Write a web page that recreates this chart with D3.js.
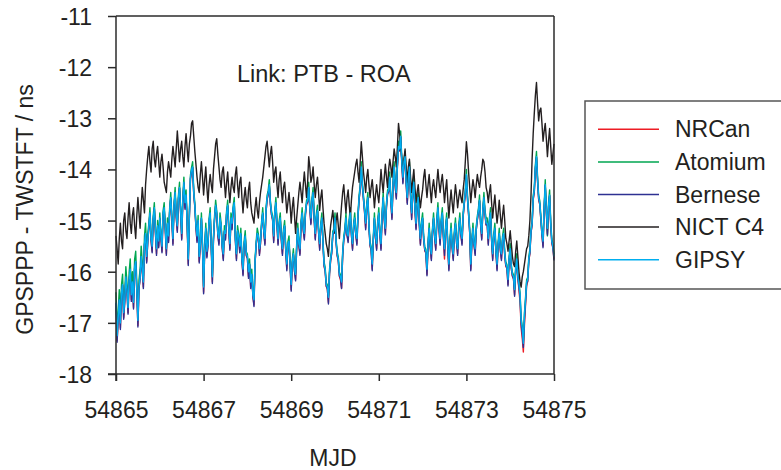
<!DOCTYPE html>
<html>
<head>
<meta charset="utf-8">
<script src="https://cdn.jsdelivr.net/npm/d3@7"></script>
<style>
  html, body { margin: 0; padding: 0; background: #fff; }
  svg { display: block; font-family: "Liberation Sans", Arial, sans-serif; }
</style>
</head>
<body>
<svg id="chart" width="781" height="470"></svg>
<script>
// Sampling of the series: MJD 54865 .. 54875, every 0.025 day (401 epochs)
const mjdStart = 54865;
const mjdStep = 0.025;

const seriesNames = ["NRCan", "Atomium", "Bernese", "NICT C4", "GIPSY"];
const seriesColors = ["#ed1c24", "#00a651", "#2e3192", "#231f20", "#00aeef"];

const xTicks = [54865, 54867, 54869, 54871, 54873, 54875];
const yTicks = [-18, -17, -16, -15, -14, -13, -12, -11];

// GPSPPP - TWSTFT (ns), one row = half a day
const nrcan = [
-16.62,-17.35,-16.94,-16.57,-17.10,-16.44,-16.27,-16.90,-16.59,-16.12,-16.39,-16.80,-16.19,-15.97,-16.55,-16.22,-16.70,-15.94,-15.82,-16.39,
-17.05,-16.34,-16.14,-15.72,-15.99,-16.30,-15.49,-15.27,-15.80,-15.44,-15.14,-14.87,-15.39,-15.60,-14.99,-14.77,-15.24,-15.65,-15.12,-15.50,
-14.97,-15.34,-15.60,-14.89,-14.77,-15.19,-15.65,-15.07,-15.40,-14.84,-14.57,-14.99,-15.45,-14.74,-14.47,-14.94,-15.20,-14.59,-14.37,-14.84,
-15.35,-14.64,-14.27,-14.75,-14.52,-15.09,-15.85,-14.94,-14.19,-14.04,-13.97,-14.49,-14.74,-15.14,-15.40,-15.02,-15.80,-15.49,-14.97,-15.54,
-16.40,-15.59,-15.17,-15.70,-15.49,-15.04,-14.87,-15.54,-16.20,-15.39,-14.99,-14.72,-14.89,-15.29,-15.45,-14.97,-15.14,-15.54,-15.75,-15.22,
-15.35,-14.89,-14.72,-15.19,-15.55,-14.97,-15.15,-14.79,-14.67,-15.39,-15.75,-15.22,-15.34,-15.60,-15.27,-15.79,-16.05,-15.49,-15.32,-15.69,
-15.74,-16.10,-15.87,-16.30,-16.07,-16.49,-16.65,-15.84,-15.49,-15.27,-15.34,-15.65,-15.44,-15.09,-14.87,-15.24,-15.45,-14.84,-14.59,-14.49,
-14.32,-14.69,-14.89,-14.99,-15.40,-14.89,-14.67,-15.09,-15.45,-15.09,-14.97,-15.39,-15.65,-15.24,-15.12,-15.59,-15.95,-15.49,-15.42,-15.89,
-16.35,-15.84,-15.67,-15.99,-16.15,-15.54,-15.17,-15.49,-15.65,-15.09,-14.87,-15.19,-15.35,-14.89,-14.69,-14.64,-14.37,-14.79,-15.05,-14.64,
-14.47,-14.99,-15.35,-14.94,-14.82,-15.24,-15.55,-15.14,-14.97,-15.44,-15.89,-15.99,-16.29,-16.34,-16.60,-16.04,-15.79,-15.64,-15.29,-15.24,
-14.97,-15.44,-15.69,-15.79,-16.09,-16.16,-16.32,-15.69,-15.39,-15.24,-14.97,-15.29,-15.40,-15.04,-14.87,-15.29,-15.55,-15.14,-14.97,-15.29,
-15.45,-14.94,-14.59,-14.39,-13.97,-14.34,-14.59,-14.84,-15.15,-14.74,-14.57,-15.14,-15.49,-15.59,-15.95,-15.39,-14.97,-15.34,-15.55,-15.09,
-14.87,-15.29,-15.55,-14.94,-14.57,-14.99,-15.25,-14.74,-14.49,-14.44,-14.17,-14.64,-14.95,-14.34,-13.97,-14.34,-14.55,-13.94,-13.57,-13.64,
-13.37,-13.89,-14.25,-13.89,-13.77,-14.29,-14.65,-14.19,-13.97,-14.54,-14.95,-14.49,-14.27,-14.79,-15.15,-14.74,-14.57,-15.09,-15.45,-15.09,
-14.97,-15.39,-15.59,-15.64,-16.05,-15.49,-15.17,-15.54,-15.75,-15.24,-14.97,-15.34,-15.55,-15.04,-14.77,-15.19,-15.45,-15.04,-14.87,-15.34,
-15.75,-15.19,-14.97,-15.54,-15.95,-15.44,-15.17,-15.54,-15.75,-15.29,-15.07,-15.44,-15.65,-15.19,-14.97,-15.29,-15.45,-14.94,-14.69,-14.49,
-14.12,-14.59,-14.89,-15.24,-15.95,-15.44,-15.17,-15.49,-15.65,-15.19,-14.99,-14.84,-14.62,-15.09,-15.35,-14.84,-14.57,-14.89,-15.09,-15.09,
-15.45,-15.04,-14.87,-15.39,-15.75,-15.34,-15.17,-15.64,-15.95,-15.49,-15.27,-15.59,-15.75,-15.39,-15.27,-15.69,-15.89,-15.94,-16.25,-15.79,
-15.57,-15.94,-16.09,-16.14,-16.45,-15.99,-15.77,-16.14,-16.35,-16.60,-17.10,-17.30,-17.57,-17.05,-16.65,-16.28,-16.19,-15.79,-15.64,-15.24,
-15.09,-14.59,-14.44,-13.99,-13.77,-14.24,-14.59,-14.69,-14.99,-15.29,-15.50,-14.79,-14.32,-14.84,-15.25,-14.74,-14.52,-15.09,-15.44,-15.54,
-15.75
];

const atomium = [
-16.40,-17.13,-16.76,-16.35,-16.88,-16.26,-16.05,-16.68,-16.41,-15.90,-16.21,-16.58,-16.01,-15.75,-16.33,-16.00,-16.48,-15.76,-15.60,-16.21,
-16.83,-16.16,-15.96,-15.50,-15.81,-16.08,-15.31,-15.05,-15.58,-15.26,-15.06,-14.75,-15.31,-15.48,-14.91,-14.65,-15.16,-15.53,-15.00,-15.38,
-14.85,-15.26,-15.48,-14.81,-14.65,-15.11,-15.53,-14.95,-15.28,-14.76,-14.45,-14.91,-15.33,-14.66,-14.35,-14.86,-15.08,-14.51,-14.25,-14.76,
-15.23,-14.56,-14.15,-14.63,-14.40,-15.01,-15.73,-14.86,-14.11,-13.96,-13.85,-14.41,-14.66,-15.06,-15.28,-14.90,-15.68,-15.41,-14.85,-15.46,
-16.28,-15.51,-15.05,-15.58,-15.41,-14.96,-14.75,-15.46,-16.08,-15.31,-14.91,-14.60,-14.81,-15.21,-15.33,-14.85,-15.06,-15.46,-15.63,-15.10,
-15.23,-14.81,-14.60,-15.11,-15.43,-14.85,-15.03,-14.71,-14.55,-15.31,-15.63,-15.10,-15.26,-15.48,-15.15,-15.71,-15.93,-15.41,-15.20,-15.61,
-15.66,-15.98,-15.75,-16.18,-15.95,-16.41,-16.53,-15.76,-15.41,-15.15,-15.26,-15.53,-15.36,-15.01,-14.75,-15.16,-15.33,-14.76,-14.51,-14.41,
-14.20,-14.61,-14.81,-14.91,-15.28,-14.81,-14.55,-15.01,-15.33,-15.01,-14.85,-15.31,-15.53,-15.16,-15.00,-15.51,-15.83,-15.41,-15.30,-15.81,
-16.23,-15.76,-15.55,-15.91,-16.03,-15.46,-15.05,-15.41,-15.53,-15.01,-14.75,-15.11,-15.23,-14.81,-14.61,-14.56,-14.25,-14.71,-14.93,-14.56,
-14.35,-14.91,-15.23,-14.86,-14.70,-15.16,-15.43,-15.06,-14.85,-15.36,-15.81,-15.91,-16.21,-16.26,-16.48,-15.96,-15.71,-15.56,-15.21,-15.16,
-14.85,-15.36,-15.61,-15.71,-16.01,-16.06,-16.18,-15.61,-15.31,-15.16,-14.85,-15.21,-15.28,-14.96,-14.75,-15.21,-15.43,-15.06,-14.85,-15.21,
-15.33,-14.86,-14.51,-14.31,-13.85,-14.26,-14.51,-14.76,-15.03,-14.66,-14.45,-15.06,-15.41,-15.51,-15.83,-15.31,-14.85,-15.26,-15.43,-15.01,
-14.75,-15.21,-15.43,-14.86,-14.45,-14.91,-15.13,-14.66,-14.41,-14.36,-14.05,-14.56,-14.83,-14.26,-13.85,-14.26,-14.43,-13.86,-13.45,-13.56,
-13.25,-13.81,-14.13,-13.81,-13.65,-14.21,-14.53,-14.11,-13.85,-14.46,-14.83,-14.41,-14.15,-14.71,-15.03,-14.66,-14.45,-15.01,-15.33,-15.01,
-14.85,-15.31,-15.51,-15.56,-15.93,-15.41,-15.05,-15.46,-15.63,-15.16,-14.85,-15.26,-15.43,-14.96,-14.65,-15.11,-15.33,-14.96,-14.75,-15.26,
-15.53,-15.11,-14.85,-15.46,-15.83,-15.36,-15.05,-15.46,-15.63,-15.21,-14.95,-15.36,-15.53,-15.11,-14.85,-15.21,-15.33,-14.86,-14.61,-14.41,
-14.00,-14.51,-14.81,-15.16,-15.83,-15.36,-15.05,-15.41,-15.53,-15.11,-14.91,-14.76,-14.50,-15.01,-15.23,-14.76,-14.45,-14.81,-14.95,-14.95,
-15.33,-14.96,-14.75,-15.31,-15.63,-15.26,-15.05,-15.56,-15.83,-15.41,-15.15,-15.51,-15.63,-15.31,-15.15,-15.61,-15.81,-15.86,-16.13,-15.71,
-15.45,-15.86,-16.01,-16.06,-16.33,-15.91,-15.65,-16.06,-16.21,-16.41,-16.91,-17.06,-17.35,-16.81,-16.51,-16.16,-16.11,-15.71,-15.56,-15.16,
-15.01,-14.51,-14.36,-13.91,-13.65,-14.16,-14.51,-14.61,-14.91,-15.21,-15.38,-14.71,-14.20,-14.76,-15.30,-14.66,-14.40,-15.01,-15.36,-15.46,
-15.66
];

const bernese = [
-16.61,-17.38,-16.93,-16.56,-17.13,-16.43,-16.26,-16.93,-16.58,-16.11,-16.38,-16.83,-16.18,-15.96,-16.58,-16.21,-16.73,-15.93,-15.81,-16.38,
-17.08,-16.33,-16.13,-15.71,-15.98,-16.33,-15.48,-15.26,-15.83,-15.43,-15.13,-14.86,-15.38,-15.63,-14.98,-14.76,-15.23,-15.68,-15.11,-15.53,
-14.96,-15.33,-15.63,-14.88,-14.76,-15.18,-15.68,-15.06,-15.43,-14.83,-14.56,-14.98,-15.48,-14.73,-14.46,-14.93,-15.23,-14.58,-14.36,-14.83,
-15.38,-14.63,-14.26,-14.78,-14.51,-15.08,-15.88,-14.93,-14.18,-14.03,-13.96,-14.48,-14.73,-15.13,-15.43,-15.01,-15.83,-15.48,-14.96,-15.53,
-16.43,-15.58,-15.16,-15.73,-15.48,-15.03,-14.86,-15.53,-16.23,-15.38,-14.98,-14.71,-14.88,-15.28,-15.48,-14.96,-15.13,-15.53,-15.78,-15.21,
-15.38,-14.88,-14.71,-15.18,-15.58,-14.96,-15.18,-14.78,-14.66,-15.38,-15.78,-15.21,-15.33,-15.63,-15.26,-15.78,-16.08,-15.48,-15.31,-15.68,
-15.73,-16.13,-15.86,-16.33,-16.06,-16.48,-16.68,-15.83,-15.48,-15.26,-15.33,-15.68,-15.43,-15.08,-14.86,-15.23,-15.48,-14.83,-14.58,-14.48,
-14.31,-14.68,-14.88,-14.98,-15.43,-14.88,-14.66,-15.08,-15.48,-15.08,-14.96,-15.38,-15.68,-15.23,-15.11,-15.58,-15.98,-15.48,-15.41,-15.88,
-16.38,-15.83,-15.66,-15.98,-16.18,-15.53,-15.16,-15.48,-15.68,-15.08,-14.86,-15.18,-15.38,-14.88,-14.68,-14.63,-14.36,-14.78,-15.08,-14.63,
-14.46,-14.98,-15.38,-14.93,-14.81,-15.23,-15.58,-15.13,-14.96,-15.43,-15.88,-15.98,-16.28,-16.33,-16.63,-16.03,-15.78,-15.63,-15.28,-15.23,
-14.96,-15.43,-15.68,-15.78,-16.08,-16.13,-16.33,-15.68,-15.38,-15.23,-14.96,-15.28,-15.43,-15.03,-14.86,-15.28,-15.58,-15.13,-14.96,-15.28,
-15.48,-14.93,-14.58,-14.38,-13.96,-14.33,-14.58,-14.83,-15.18,-14.73,-14.56,-15.13,-15.48,-15.58,-15.98,-15.38,-14.96,-15.33,-15.58,-15.08,
-14.86,-15.28,-15.58,-14.93,-14.56,-14.98,-15.28,-14.73,-14.48,-14.43,-14.16,-14.63,-14.98,-14.33,-13.96,-14.33,-14.58,-13.93,-13.56,-13.63,
-13.36,-13.88,-14.28,-13.88,-13.76,-14.28,-14.68,-14.18,-13.96,-14.53,-14.98,-14.48,-14.26,-14.78,-15.18,-14.73,-14.56,-15.08,-15.48,-15.08,
-14.96,-15.38,-15.58,-15.63,-16.08,-15.48,-15.16,-15.53,-15.78,-15.23,-14.96,-15.33,-15.58,-15.03,-14.76,-15.18,-15.48,-15.03,-14.86,-15.33,
-15.68,-15.18,-14.96,-15.53,-15.98,-15.43,-15.16,-15.53,-15.78,-15.28,-15.06,-15.43,-15.68,-15.18,-14.96,-15.28,-15.48,-14.93,-14.68,-14.48,
-14.11,-14.58,-14.88,-15.23,-15.98,-15.43,-15.16,-15.48,-15.68,-15.18,-14.98,-14.83,-14.61,-15.08,-15.38,-14.83,-14.56,-14.88,-15.08,-15.08,
-15.48,-15.03,-14.86,-15.38,-15.78,-15.33,-15.16,-15.63,-15.98,-15.48,-15.26,-15.58,-15.78,-15.38,-15.26,-15.68,-15.88,-15.93,-16.28,-15.78,
-15.56,-15.93,-16.08,-16.13,-16.48,-15.98,-15.76,-16.13,-16.30,-16.52,-17.02,-17.20,-17.48,-16.95,-16.60,-16.23,-16.18,-15.78,-15.63,-15.23,
-15.08,-14.58,-14.43,-13.98,-13.76,-14.23,-14.58,-14.68,-14.98,-15.28,-15.53,-14.78,-14.31,-14.83,-15.28,-14.73,-14.51,-15.08,-15.43,-15.53,
-15.78
];

const nict = [
-15.30,-15.55,-15.85,-15.35,-15.05,-15.40,-15.55,-15.00,-14.85,-15.20,-15.35,-14.95,-14.65,-15.05,-15.25,-14.90,-14.75,-15.10,-15.35,-14.90,
-14.55,-14.85,-15.15,-14.70,-14.35,-14.60,-14.85,-14.30,-14.00,-13.75,-13.55,-13.85,-14.05,-13.60,-13.45,-13.80,-13.95,-13.70,-13.55,-13.85,
-14.15,-13.85,-13.70,-13.95,-14.25,-14.35,-14.45,-14.05,-13.85,-14.00,-14.15,-13.80,-13.55,-13.75,-13.95,-13.60,-13.25,-13.55,-13.85,-13.60,
-13.45,-13.75,-13.95,-13.55,-13.30,-13.60,-13.85,-13.50,-13.35,-13.10,-13.05,-13.35,-13.65,-13.90,-14.15,-14.35,-14.45,-14.10,-13.85,-14.15,
-14.50,-14.20,-13.95,-14.35,-14.65,-14.30,-14.10,-14.30,-14.45,-14.00,-13.75,-13.50,-13.40,-13.70,-13.95,-14.20,-14.35,-14.05,-13.95,-14.25,
-14.55,-14.25,-14.05,-14.40,-14.65,-14.35,-14.15,-14.35,-14.45,-14.10,-13.95,-14.30,-14.55,-14.25,-14.15,-14.55,-14.85,-14.55,-14.35,-14.60,
-14.75,-14.40,-14.25,-14.65,-14.85,-14.95,-15.05,-14.75,-14.55,-14.80,-14.95,-14.65,-14.45,-14.30,-14.15,-13.95,-13.75,-13.55,-13.45,-13.70,
-13.95,-13.70,-13.55,-13.85,-14.25,-14.05,-13.95,-14.30,-14.55,-14.20,-14.05,-14.40,-14.65,-14.35,-14.25,-14.55,-14.85,-14.65,-14.45,-14.70,
-15.05,-14.75,-14.55,-14.90,-15.25,-14.95,-14.70,-14.45,-14.25,-14.45,-14.65,-14.30,-14.05,-14.30,-14.55,-14.25,-13.75,-13.95,-14.25,-14.15,
-13.95,-14.30,-14.55,-14.30,-14.15,-14.45,-14.80,-14.55,-14.40,-14.75,-15.05,-15.25,-15.45,-15.55,-15.70,-15.35,-15.10,-14.95,-14.80,-15.05,
-15.25,-15.00,-14.85,-15.10,-15.35,-15.00,-14.70,-14.45,-14.30,-14.60,-14.85,-14.55,-14.40,-14.70,-14.95,-14.60,-14.35,-14.20,-14.05,-13.90,
-13.80,-14.05,-14.25,-13.85,-13.46,-13.75,-14.05,-14.25,-14.45,-14.15,-14.00,-14.30,-14.55,-14.35,-14.20,-14.45,-14.75,-14.50,-14.30,-14.50,
-14.65,-14.35,-14.00,-14.25,-14.45,-14.15,-13.90,-14.15,-14.35,-14.00,-13.80,-13.95,-14.15,-13.85,-13.60,-13.75,-13.95,-13.55,-13.10,-13.30,
-13.50,-13.80,-14.05,-13.80,-13.60,-13.95,-14.25,-13.95,-13.80,-14.15,-14.45,-14.20,-14.00,-14.35,-14.65,-14.45,-14.30,-14.55,-14.75,-14.55,
-14.40,-14.15,-14.00,-14.30,-14.55,-14.30,-14.10,-14.40,-14.65,-14.35,-14.20,-14.40,-14.55,-14.25,-14.00,-14.25,-14.45,-14.25,-14.10,-14.35,
-14.65,-14.40,-14.20,-14.60,-14.95,-14.65,-14.40,-14.65,-14.85,-14.55,-14.30,-14.50,-14.75,-14.55,-14.40,-14.55,-14.65,-14.40,-14.20,-13.85,
-13.46,-13.70,-14.05,-14.35,-14.65,-14.40,-14.20,-14.35,-14.55,-14.30,-14.10,-14.25,-14.35,-14.15,-14.00,-13.80,-13.85,-14.05,-14.35,-14.45,
-14.65,-14.45,-14.30,-14.65,-14.95,-14.70,-14.50,-14.80,-15.05,-14.85,-14.60,-14.90,-15.15,-14.90,-14.70,-15.00,-15.35,-15.45,-15.60,-15.40,
-15.20,-15.45,-15.70,-15.85,-15.90,-15.60,-15.40,-15.70,-16.00,-16.20,-16.30,-16.10,-16.00,-15.85,-15.70,-15.55,-15.50,-15.30,-15.00,-14.50,
-13.80,-13.30,-12.90,-12.55,-12.30,-12.70,-13.05,-12.85,-12.80,-13.10,-13.45,-13.25,-13.10,-13.40,-13.75,-13.45,-13.20,-13.55,-13.90,-13.70,
-13.50
];

const gipsy = [
-16.60,-17.25,-16.90,-16.55,-17.00,-16.40,-16.25,-16.80,-16.55,-16.10,-16.35,-16.70,-16.15,-15.95,-16.45,-16.20,-16.60,-15.90,-15.80,-16.35,
-16.95,-16.30,-16.10,-15.70,-15.95,-16.20,-15.45,-15.25,-15.70,-15.40,-15.10,-14.85,-15.35,-15.50,-14.95,-14.75,-15.20,-15.55,-15.10,-15.40,
-14.95,-15.30,-15.50,-14.85,-14.75,-15.15,-15.55,-15.05,-15.30,-14.80,-14.55,-14.95,-15.35,-14.70,-14.45,-14.90,-15.10,-14.55,-14.35,-14.80,
-15.25,-14.60,-14.25,-14.65,-14.50,-15.05,-15.75,-14.90,-14.15,-14.00,-13.95,-14.45,-14.70,-15.10,-15.30,-15.00,-15.70,-15.45,-14.95,-15.50,
-16.30,-15.55,-15.15,-15.60,-15.45,-15.00,-14.85,-15.50,-16.10,-15.35,-14.95,-14.70,-14.85,-15.25,-15.35,-14.95,-15.10,-15.50,-15.65,-15.20,
-15.25,-14.85,-14.70,-15.15,-15.45,-14.95,-15.05,-14.75,-14.65,-15.35,-15.65,-15.20,-15.30,-15.50,-15.25,-15.75,-15.95,-15.45,-15.30,-15.65,
-15.70,-16.00,-15.85,-16.20,-16.05,-16.45,-16.55,-15.80,-15.45,-15.25,-15.30,-15.55,-15.40,-15.05,-14.85,-15.20,-15.35,-14.80,-14.55,-14.45,
-14.30,-14.65,-14.85,-14.95,-15.30,-14.85,-14.65,-15.05,-15.35,-15.05,-14.95,-15.35,-15.55,-15.20,-15.10,-15.55,-15.85,-15.45,-15.40,-15.85,
-16.25,-15.80,-15.65,-15.95,-16.05,-15.50,-15.15,-15.45,-15.55,-15.05,-14.85,-15.15,-15.25,-14.85,-14.65,-14.60,-14.35,-14.75,-14.95,-14.60,
-14.45,-14.95,-15.25,-14.90,-14.80,-15.20,-15.45,-15.10,-14.95,-15.40,-15.85,-15.95,-16.25,-16.30,-16.50,-16.00,-15.75,-15.60,-15.25,-15.20,
-14.95,-15.40,-15.65,-15.75,-16.05,-16.10,-16.20,-15.65,-15.35,-15.20,-14.95,-15.25,-15.30,-15.00,-14.85,-15.25,-15.45,-15.10,-14.95,-15.25,
-15.35,-14.90,-14.55,-14.35,-13.95,-14.30,-14.55,-14.80,-15.05,-14.70,-14.55,-15.10,-15.45,-15.55,-15.85,-15.35,-14.95,-15.30,-15.45,-15.05,
-14.85,-15.25,-15.45,-14.90,-14.55,-14.95,-15.15,-14.70,-14.45,-14.40,-14.15,-14.60,-14.85,-14.30,-13.95,-14.30,-14.45,-13.90,-13.55,-13.60,
-13.35,-13.85,-14.15,-13.85,-13.75,-14.25,-14.55,-14.15,-13.95,-14.50,-14.85,-14.45,-14.25,-14.75,-15.05,-14.70,-14.55,-15.05,-15.35,-15.05,
-14.95,-15.35,-15.55,-15.60,-15.95,-15.45,-15.15,-15.50,-15.65,-15.20,-14.95,-15.30,-15.45,-15.00,-14.75,-15.15,-15.35,-15.00,-14.85,-15.30,
-15.55,-15.15,-14.95,-15.50,-15.85,-15.40,-15.15,-15.50,-15.65,-15.25,-15.05,-15.40,-15.55,-15.15,-14.95,-15.25,-15.35,-14.90,-14.65,-14.45,
-14.10,-14.55,-14.85,-15.20,-15.85,-15.40,-15.15,-15.45,-15.55,-15.15,-14.95,-14.80,-14.60,-15.05,-15.25,-14.80,-14.55,-14.85,-15.05,-15.05,
-15.35,-15.00,-14.85,-15.35,-15.65,-15.30,-15.15,-15.60,-15.85,-15.45,-15.25,-15.55,-15.65,-15.35,-15.25,-15.65,-15.85,-15.90,-16.15,-15.75,
-15.55,-15.90,-16.05,-16.10,-16.35,-15.95,-15.75,-16.10,-16.25,-16.45,-16.95,-17.10,-17.40,-16.85,-16.55,-16.20,-16.15,-15.75,-15.60,-15.20,
-15.05,-14.55,-14.40,-13.95,-13.75,-14.20,-14.55,-14.65,-14.95,-15.25,-15.40,-14.75,-14.30,-14.80,-15.15,-14.70,-14.50,-15.05,-15.40,-15.50,
-15.70
];

const seriesValues = [nrcan, atomium, bernese, nict, gipsy];

const svg = d3.select("#chart");
const plotLeft = 116, plotRight = 554, plotTop = 16, plotBottom = 374;
const fontSize = 23;
const axisColor = "#2b2b2b";

const x = d3.scaleLinear().domain([54865, 54875]).range([plotLeft, plotRight]);
const y = d3.scaleLinear().domain([-18, -11]).range([plotBottom, plotTop]);

// Series lines, in legend order so GIPSY ends on top
const line = d3.line()
  .x((d, i) => x(mjdStart + i * mjdStep))
  .y(d => y(d));

const plot = svg.append("g");
seriesValues.forEach((vals, k) => {
  plot.append("path")
    .datum(vals)
    .attr("fill", "none")
    .attr("stroke", seriesColors[k])
    .attr("stroke-width", 1.4)
    .attr("stroke-linejoin", "round")
    .attr("d", line);
});

// Frame: top and right edges
svg.append("line")
  .attr("x1", plotLeft).attr("x2", plotRight).attr("y1", plotTop).attr("y2", plotTop)
  .attr("stroke", axisColor).attr("stroke-width", 1.5);
svg.append("line")
  .attr("x1", plotRight).attr("x2", plotRight).attr("y1", plotTop).attr("y2", plotBottom)
  .attr("stroke", axisColor).attr("stroke-width", 1.5);

// Axes
const xAxis = d3.axisBottom(x)
  .tickValues(xTicks)
  .tickSize(7)
  .tickPadding(21)
  .tickFormat(d => String(d));
const yAxis = d3.axisLeft(y)
  .tickValues(yTicks)
  .tickSize(8)
  .tickPadding(16)
  .tickFormat(d => String(d));

function styleAxis(g) {
  g.select(".domain").attr("stroke", axisColor).attr("stroke-width", 1.5);
  g.selectAll(".tick line").attr("stroke", axisColor).attr("stroke-width", 1.5);
  g.selectAll(".tick text")
    .attr("fill", "#231f20")
    .style("font-size", fontSize + "px")
    .style("font-family", "'Liberation Sans', Arial, sans-serif");
}

svg.append("g")
  .attr("transform", `translate(0,${plotBottom})`)
  .call(xAxis)
  .call(g => g.select(".domain").attr("d", `M${plotLeft - 8},0H${plotRight}`))
  .call(styleAxis);

svg.append("g")
  .attr("transform", `translate(${plotLeft},0)`)
  .call(yAxis)
  .call(g => g.select(".domain").attr("d", `M0,${plotTop}V${plotBottom + 7}`))
  .call(styleAxis)
  .call(g => g.selectAll(".tick text").attr("dy", "0.37em"));

// Axis titles
svg.append("text")
  .attr("x", (plotLeft + plotRight) / 2 - 2)
  .attr("y", 466)
  .attr("text-anchor", "middle")
  .attr("fill", "#231f20")
  .style("font-size", fontSize + "px")
  .text("MJD");

svg.append("text")
  .attr("transform", `translate(33,${(81 + 338) / 2}) rotate(-90)`)
  .attr("text-anchor", "middle")
  .attr("fill", "#231f20")
  .style("font-size", fontSize + "px")
  .text("GPSPPP - TWSTFT / ns");

// Link annotation
svg.append("text")
  .attr("x", 237)
  .attr("y", 82)
  .attr("fill", "#231f20")
  .style("font-size", "23.5px")
  .text("Link: PTB - ROA");

// Legend
const legend = svg.append("g");
legend.append("rect")
  .attr("x", 585).attr("y", 101)
  .attr("width", 210).attr("height", 188)
  .attr("fill", "#fff")
  .attr("stroke", "#555")
  .attr("stroke-width", 1.5);

seriesNames.forEach((name, k) => {
  const ry = 129.3 + k * 32.6;
  legend.append("line")
    .attr("x1", 598).attr("x2", 659)
    .attr("y1", ry).attr("y2", ry)
    .attr("stroke", seriesColors[k])
    .attr("stroke-width", 1.5);
  legend.append("text")
    .attr("x", 675).attr("y", ry + 8)
    .attr("fill", "#231f20")
    .style("font-size", fontSize + "px")
    .text(name);
});

// Every series must cover the same 401 epochs
seriesValues.forEach((vals, k) => {
  if (vals.length !== 401) throw new Error(seriesNames[k] + " has " + vals.length + " values");
});
</script>
</body>
</html>
